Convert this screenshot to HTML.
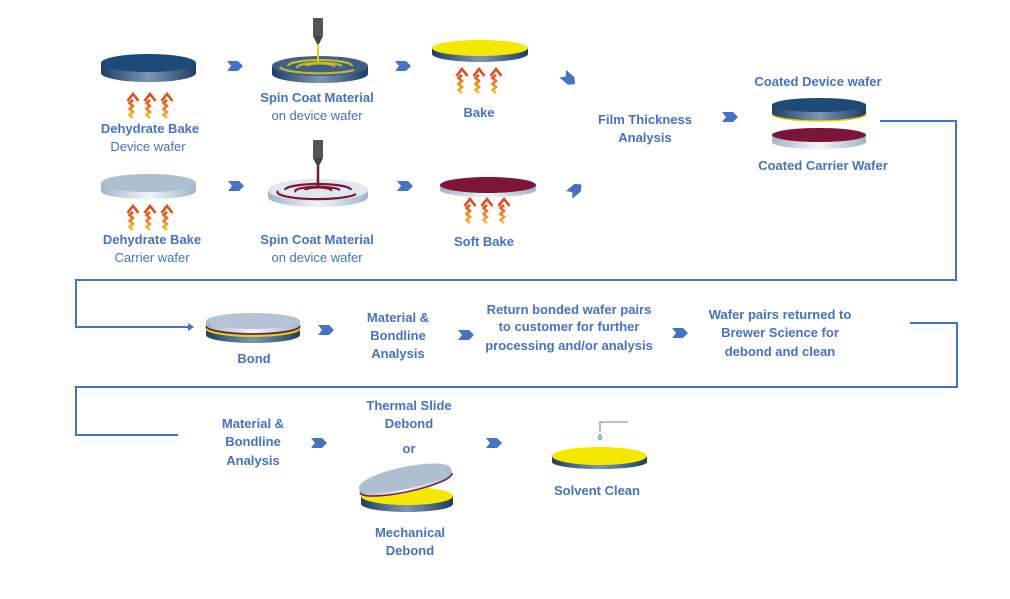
<!DOCTYPE html>
<html><head><meta charset="utf-8"><style>
html,body{margin:0;padding:0;background:#fff}
svg{display:block}
text{font-family:"Liberation Sans",Arial,sans-serif;font-size:13px;fill:#4472C4;text-anchor:middle;font-weight:bold}
text.n{font-weight:normal}
</style></head><body>
<svg width="1010" height="599" viewBox="0 0 1010 599" xmlns="http://www.w3.org/2000/svg">
<defs>
<linearGradient id="sd" x1="0" x2="1"><stop offset="0" stop-color="#1d3f66"/><stop offset=".5" stop-color="#7d97b3"/><stop offset="1" stop-color="#1d3f66"/></linearGradient>
<linearGradient id="sl" x1="0" x2="1"><stop offset="0" stop-color="#9fb4c9"/><stop offset=".5" stop-color="#f2f6fa"/><stop offset="1" stop-color="#9fb4c9"/></linearGradient>
<linearGradient id="hg" x1="0" y1="1" x2="0" y2="0"><stop offset="0" stop-color="#f7c12a"/><stop offset="1" stop-color="#e04a1e"/></linearGradient>
<g id="chev"><path d="M0,0 L11,0 L16,5 L11,10 L0,10 L4,5 Z" fill="#4472C4"/></g>
<g id="heat"><path d="M0,25 l-3.5,-3 l3.5,-3 l-3.5,-3 l3.5,-3 l-3.5,-3 l3.5,-3" fill="none" stroke="url(#hg)" stroke-width="2.6"/><path d="M-5.5,8 L0,1 L5.5,8" fill="none" stroke="#e04a1e" stroke-width="2.6"/></g>
<g id="heat3"><use href="#heat" x="0"/><use href="#heat" x="17"/><use href="#heat" x="34"/></g>
</defs>

<!-- Row 1 -->
<path d="M101,63 v10 a47,9 0 0 0 95,0 v-10 z" fill="url(#sd)"/>
<ellipse cx="148.5" cy="63" rx="47.5" ry="9" fill="#1e4a7a"/>
<use href="#heat3" x="133" y="93"/>
<text x="150" y="133">Dehydrate Bake</text>
<text class="n" x="148" y="151">Device wafer</text>
<use href="#chev" x="227" y="61"/>

<path d="M272,66 v8 a48,9 0 0 0 96,0 v-8 z" fill="url(#sd)"/>
<ellipse cx="320" cy="66" rx="48" ry="10" fill="#3e5f86"/>
<path d="M288,66 a32,6 0 0 1 64,0 M298,68 a22,4 0 0 1 44,-2 M306,66 a14,3 0 0 1 28,1 M280,67 a40,7 0 0 0 74,3" fill="none" stroke="#c8b82a" stroke-width="2.2"/>
<line x1="318" y1="44" x2="318" y2="62" stroke="#e8d400" stroke-width="2"/>
<rect x="313" y="18" width="10" height="18" fill="#555"/><path d="M313,36 L323,36 L319,44 L317,44 Z" fill="#444"/>
<text x="317" y="102">Spin Coat Material</text>
<text class="n" x="317" y="120">on device wafer</text>
<use href="#chev" x="395" y="61"/>

<path d="M432,48 v6 a48,8 0 0 0 96,0 v-6 z" fill="url(#sd)"/>
<ellipse cx="480" cy="48" rx="48" ry="8" fill="#f5e800"/>
<use href="#heat3" x="462" y="68"/>
<text x="479" y="117">Bake</text>
<use href="#chev" transform="translate(566,70) rotate(40)"/>
<text x="645" y="124">Film Thickness</text>
<text x="645" y="142">Analysis</text>
<use href="#chev" x="722" y="112"/>

<path d="M772,105 v9 a47,7 0 0 0 94,0 v-9 z" fill="url(#sd)"/>
<path d="M772,114 a47,7 0 0 0 94,0" fill="none" stroke="#e8d400" stroke-width="1.5"/>
<ellipse cx="819" cy="105" rx="47" ry="7" fill="#1e4a7a"/>
<path d="M772,135 v7 a47,7 0 0 0 94,0 v-7 z" fill="url(#sl)"/>
<ellipse cx="819" cy="135" rx="47" ry="7" fill="#7d1538"/>
<text x="818" y="86">Coated Device wafer</text>
<text x="823" y="170">Coated Carrier Wafer</text>
<path d="M880,121 H956 V280 H76 V327 H192" fill="none" stroke="#4472C4" stroke-width="2"/>
<path d="M188,323 L194,327 L188,331 Z" fill="#4472C4"/>

<!-- Row 2 -->
<path d="M101,183 v8 a47,8 0 0 0 95,0 v-8 z" fill="url(#sl)"/>
<ellipse cx="148.5" cy="183" rx="47.5" ry="9" fill="#aebfd1"/>
<use href="#heat3" x="133" y="205"/>
<text x="152" y="244">Dehydrate Bake</text>
<text class="n" x="152" y="262">Carrier wafer</text>
<use href="#chev" x="228" y="181"/>

<path d="M268,190 v7 a50,10 0 0 0 100,0 v-7 z" fill="url(#sl)"/>
<ellipse cx="318" cy="190" rx="50" ry="11" fill="#dfe7ef"/>
<path d="M285,190 a33,6 0 0 1 66,0 M296,192 a22,4 0 0 1 44,-2 M305,190 a13,3 0 0 1 26,1 M278,191 a40,7 0 0 0 78,3" fill="none" stroke="#7d1538" stroke-width="2.2"/>
<line x1="318" y1="166" x2="318" y2="186" stroke="#7d1538" stroke-width="2.5"/>
<rect x="313" y="140" width="10" height="18" fill="#555"/><path d="M313,158 L323,158 L319,166 L317,166 Z" fill="#444"/>
<text x="317" y="244">Spin Coat Material</text>
<text class="n" x="317" y="262">on device wafer</text>
<use href="#chev" x="397" y="181"/>

<path d="M440,185 v5 a48,7 0 0 0 96,0 v-5 z" fill="url(#sl)"/>
<ellipse cx="488" cy="185" rx="48" ry="8" fill="#7d1538"/>
<use href="#heat3" x="470" y="198"/>
<text x="484" y="246">Soft Bake</text>
<use href="#chev" transform="translate(566,191) rotate(-40)"/>

<!-- Row 3 -->
<path d="M206,325 v10 a47,8 0 0 0 94,0 v-10 z" fill="url(#sd)"/>
<path d="M206,328 a47,8 0 0 0 94,0" fill="none" stroke="#e8d400" stroke-width="2"/>
<path d="M206,326 a47,8 0 0 0 94,0" fill="none" stroke="#7d1538" stroke-width="1.5"/>
<path d="M206,321 v4 a47,8 0 0 0 94,0 v-4 z" fill="url(#sl)"/>
<ellipse cx="253" cy="321" rx="47" ry="8" fill="#b3c4d6"/>
<text x="254" y="363">Bond</text>
<use href="#chev" x="318" y="325"/>
<text x="398" y="322">Material &amp;</text>
<text x="398" y="340">Bondline</text>
<text x="398" y="358">Analysis</text>
<use href="#chev" x="458" y="330"/>
<text x="569" y="314">Return bonded wafer pairs</text>
<text x="569" y="331">to customer for further</text>
<text x="569" y="350">processing and/or analysis</text>
<use href="#chev" x="672" y="328"/>
<text x="780" y="319">Wafer pairs returned to</text>
<text x="780" y="337">Brewer Science for</text>
<text x="780" y="356">debond and clean</text>
<path d="M910,323 H957 V387 H76 V435 H178" fill="none" stroke="#4472C4" stroke-width="2"/>

<!-- Row 4 -->
<text x="253" y="428">Material &amp;</text>
<text x="253" y="446">Bondline</text>
<text x="253" y="465">Analysis</text>
<use href="#chev" x="311" y="438"/>
<text x="409" y="410">Thermal Slide</text>
<text x="409" y="428">Debond</text>
<text x="409" y="453">or</text>
<path d="M361,496 v8 a46,8 0 0 0 92,0 v-8 z" fill="url(#sd)"/>
<ellipse cx="407" cy="496" rx="46" ry="9" fill="#f5e800"/>
<g transform="rotate(-12 405 478)">
<path d="M358,478 v6 a47,9 0 0 0 94,0 v-6 z" fill="url(#sl)"/>
<path d="M358,483 a47,9 0 0 0 94,0" fill="none" stroke="#7d1538" stroke-width="1.5"/>
<ellipse cx="405" cy="478" rx="47" ry="11" fill="#aebfd1"/>
</g>
<text x="410" y="537">Mechanical</text>
<text x="410" y="555">Debond</text>
<use href="#chev" x="486" y="438"/>
<path d="M552,456 v6 a47,7 0 0 0 95,0 v-6 z" fill="url(#sd)"/>
<ellipse cx="599.5" cy="456" rx="47.5" ry="9" fill="#f5e800"/>
<path d="M628,422 H600 V432" fill="none" stroke="#aaa" stroke-width="1.5"/>
<path d="M600,434 q-3,4 0,6 q3,-2 0,-6" fill="#bfe3f5" stroke="#3a9ad0" stroke-width="1"/>
<text x="597" y="495">Solvent Clean</text>
</svg>
</body></html>
